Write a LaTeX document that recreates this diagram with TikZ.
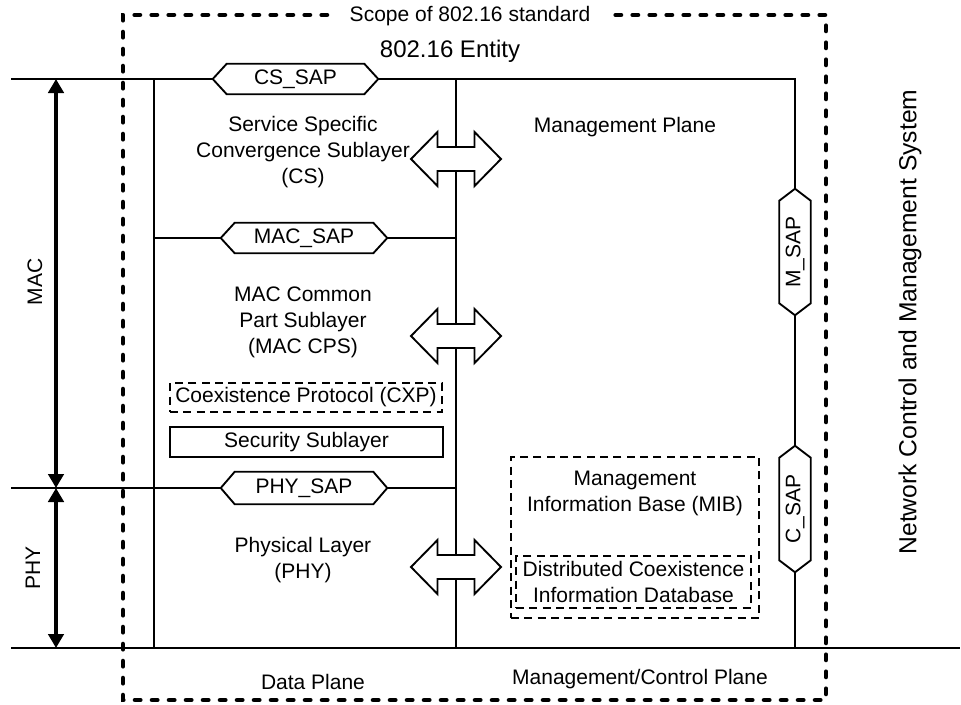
\documentclass[tikz,border=0pt]{standalone}
\usepackage{fontspec}
\setmainfont{Liberation Sans}
\usetikzlibrary{arrows.meta,calc}
\pgfdeclarelayer{background}
\pgfsetlayers{background,main}
\newcommand\hexH[1]{\draw[thinline, fill=white] ($(#1.west)+(-14,0)$) -- (#1.north west) -- (#1.north east) -- ($(#1.east)+(14,0)$) -- (#1.south east) -- (#1.south west) -- cycle;}
\newcommand\hexV[1]{\draw[thinline, fill=white] ($(#1.west)+(0,12)$) -- (#1.north west) -- (#1.north east) -- ($(#1.east)+(0,-12)$) -- (#1.south east) -- (#1.south west) -- cycle;}
\begin{document}
\begin{tikzpicture}[x=0.75pt,y=-0.75pt,
  every node/.style={font=\fontsize{15.75}{19.5}\selectfont, inner sep=0pt, align=center},
  thinline/.style={line width=1.4pt},
  scopeline/.style={line width=3.4pt, line cap=round, dash pattern=on 4pt off 8.75pt},
  dashbox/.style={draw, line width=1.1pt, dash pattern=on 6pt off 4pt},
  solidbox/.style={draw, line width=1.1pt},
  sapH/.style={minimum height=22.5pt},
  sapV/.style={rotate=90, minimum width=76.5pt, minimum height=23.25pt},
  bigarrow/.style={line width=3pt, {Triangle[length=10.5pt,width=11.5pt]}-{Triangle[length=10.5pt,width=11.5pt]}},
  blockarrow/.pic={\draw[thinline, fill=white] (-45,0) -- (-18.5,-27) -- (-18.5,-12) -- (18.5,-12) -- (18.5,-27) -- (45,0) -- (18.5,27) -- (18.5,12) -- (-18.5,12) -- (-18.5,27) -- cycle;}
]
\useasboundingbox (0,0) rectangle (961,704);

% coordinates
\coordinate (tl) at (11,79);
\coordinate (tr) at (795,79);
\coordinate (rb) at (795,648);
\coordinate (bl) at (11,648);
\coordinate (br) at (960,648);
\coordinate (lt) at (154,79);
\coordinate (lb) at (154,648);
\coordinate (ct) at (456,79);
\coordinate (cb) at (456,648);
\coordinate (macl) at (154,238);
\coordinate (macr) at (456,238);
\coordinate (phyl) at (11,488);
\coordinate (phyr) at (456,488);
\coordinate (aT) at (56,79);
\coordinate (aM) at (56,488);
\coordinate (aB) at (56,648);
\coordinate (s1) at (327,15);
\coordinate (s2) at (123,15);
\coordinate (s3) at (123,700);
\coordinate (s4) at (826,700);
\coordinate (s5) at (826,15);
\coordinate (s6) at (612,15);

% SAP nodes
\node[sapH, minimum width=102.75pt] (cssap) at (295.5,79) {CS\_SAP};
\node[sapH, minimum width=103.5pt] (macsap) at (304,238) {MAC\_SAP};
\node[sapH, minimum width=103.5pt, minimum height=24pt] (physap) at (304,488) {PHY\_SAP};
\node[sapV] (msap) at (795,252) {M\_SAP};
\node[sapV] (csap) at (795,509) {C\_SAP};

% text nodes
\node (scope) at (470,16) {Scope of 802.16 standard};
\node[font=\fontsize{18}{22}\selectfont] (entity) at (450,51) {802.16 Entity};
\node (cs) at (303,152) {Service Specific\\Convergence Sublayer\\(CS)};
\node (mgmt) at (625,127) {Management Plane};
\node (cps) at (303,322) {MAC Common\\Part Sublayer\\(MAC CPS)};
\node[dashbox, minimum width=204pt, minimum height=21.75pt] (cxp) at (306,397.5) {Coexistence Protocol (CXP)};
\node[solidbox, minimum width=204.75pt, minimum height=22.5pt] (sec) at (306.5,442) {Security Sublayer};
\node (phy) at (303,560) {Physical Layer\\(PHY)};
\node[dashbox, minimum width=186pt, minimum height=120.75pt] (mib) at (635,537.5) {};
\node (mibt) at (635,493.5) {Management\\Information Base (MIB)};
\node[dashbox, minimum width=176.25pt, minimum height=39pt] (dcid) at (633.5,582) {Distributed Coexistence\\Information Database};
\node (dp) at (313,682) {Data Plane};
\node (mcp) at (640,679) {Management/Control Plane};
\node[rotate=90] (maclab) at (35,282) {MAC};
\node[rotate=90] (phylab) at (33,568) {PHY};
\node[rotate=90, font=\fontsize{18.5}{22}\selectfont] (ncms) at (910,322) {Network Control and Management System};

\begin{pgfonlayer}{background}
\draw[scopeline] (s1) -- (s2) -- (s3) -- (s4) -- (s5) -- (s6);
\draw[thinline] (tl) -- (tr) -- (rb);
\draw[thinline] (bl) -- (br);
\draw[thinline] (lt) -- (lb);
\draw[thinline] (ct) -- (cb);
\draw[thinline] (macl) -- (macr);
\draw[thinline] (phyl) -- (phyr);
\hexH{cssap}
\hexH{macsap}
\hexH{physap}
\hexV{msap}
\hexV{csap}
\end{pgfonlayer}

\draw[bigarrow] (aT) -- (aM);
\draw[bigarrow] (aM) -- (aB);

\pic at (456,159) {blockarrow};
\pic at (456,336) {blockarrow};
\pic at (456,567) {blockarrow};
\end{tikzpicture}
\end{document}
